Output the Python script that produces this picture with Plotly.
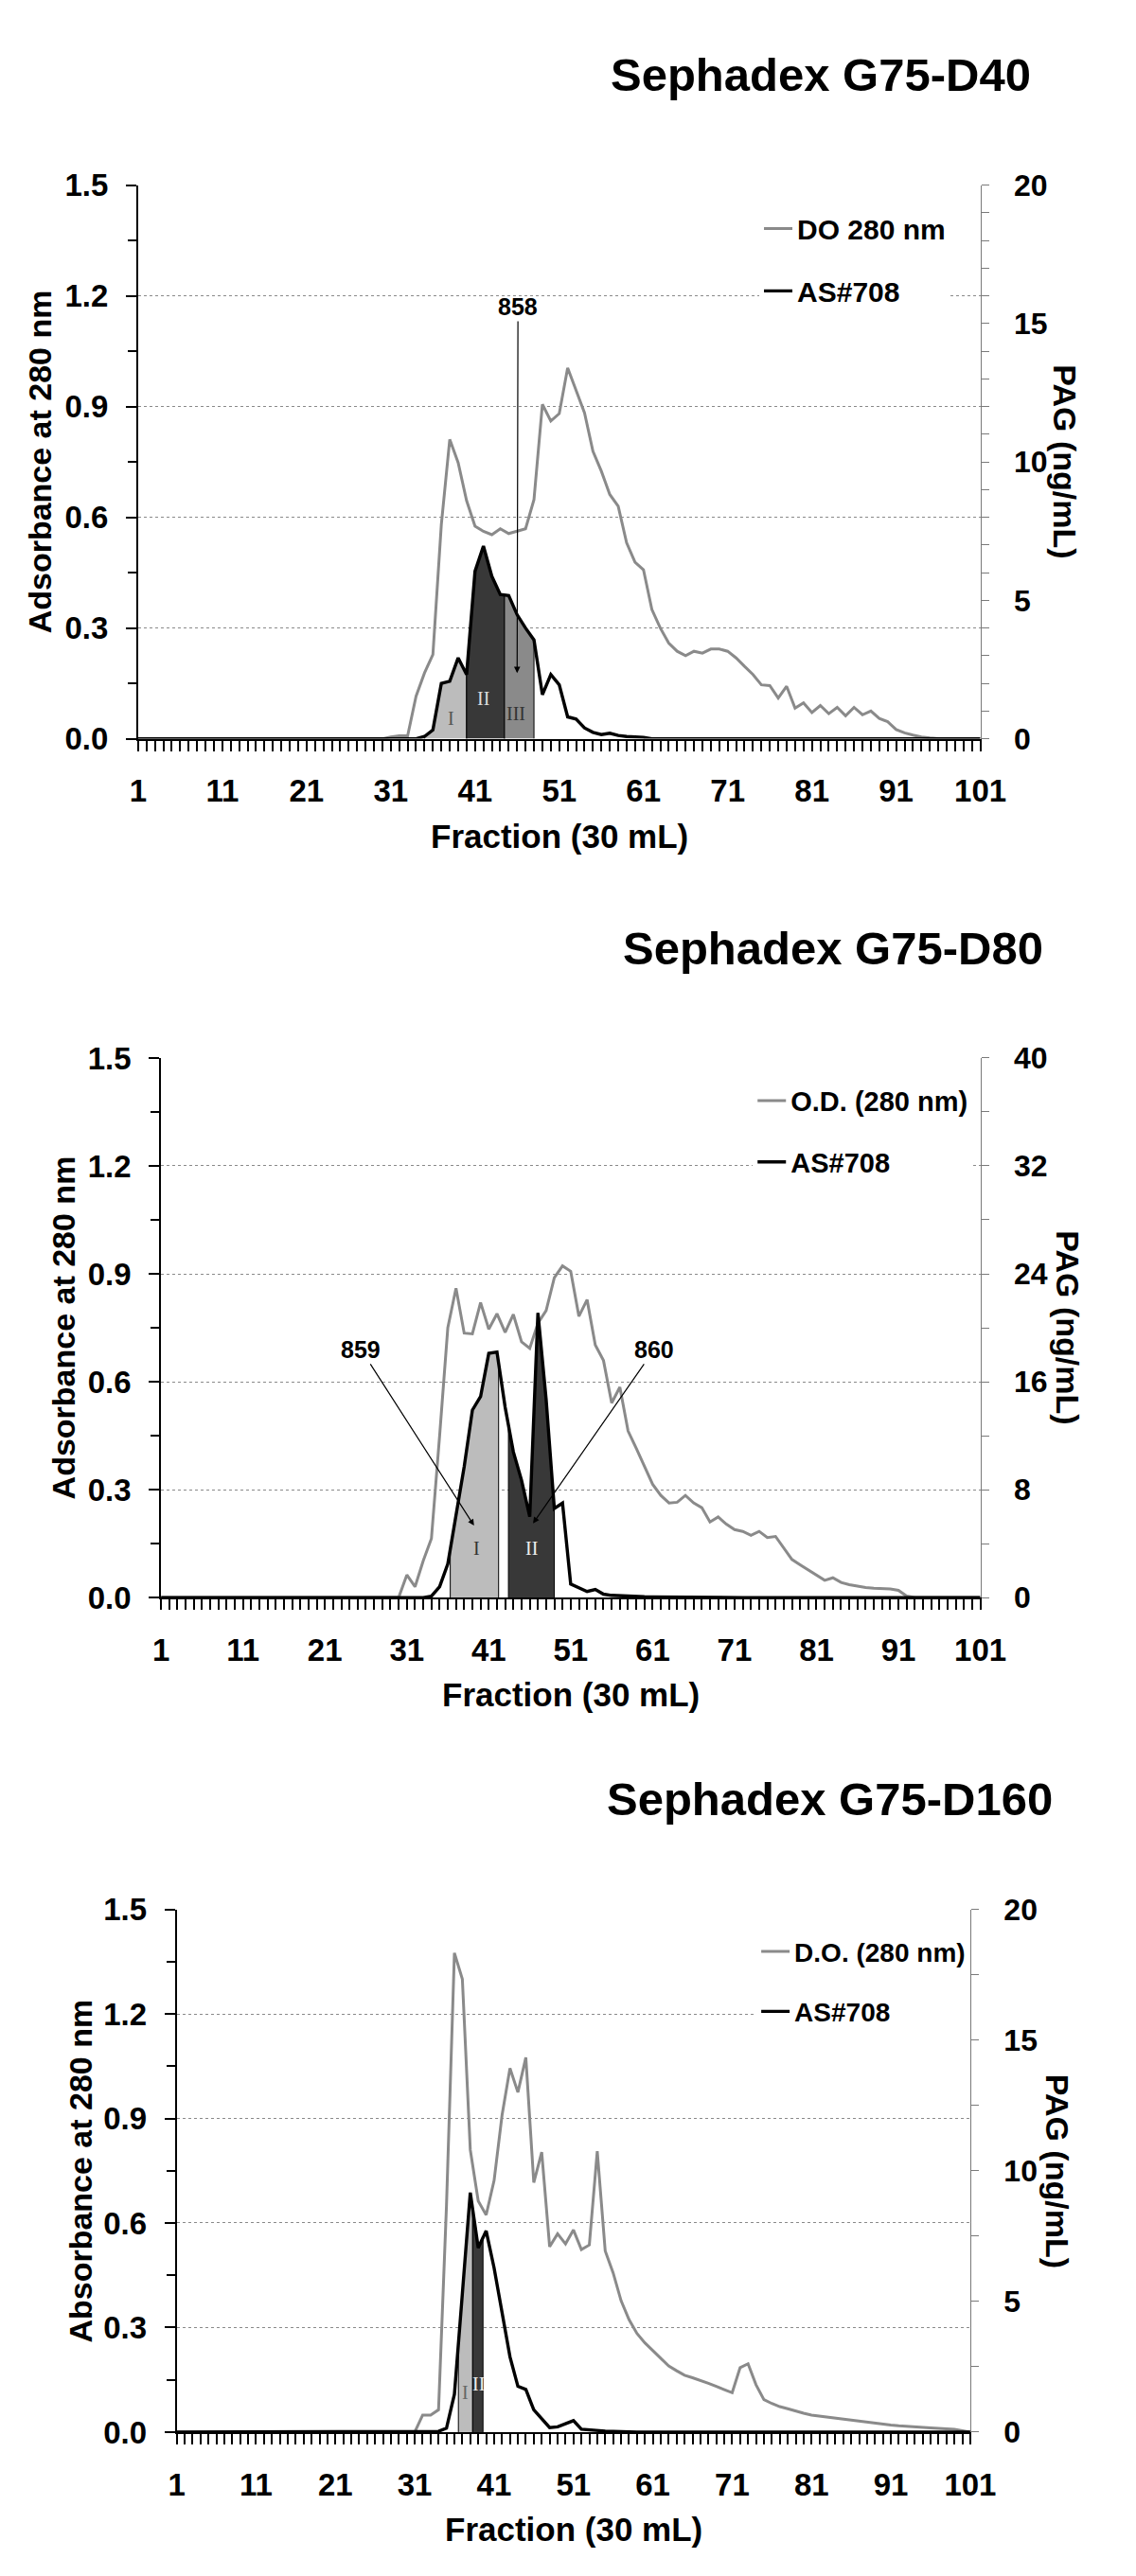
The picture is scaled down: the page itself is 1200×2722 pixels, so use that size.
import numpy as np
import plotly.graph_objects as go

# ---------------- DATA ----------------
FRACTIONS = list(range(1, 102))
X_TICK_LABELS = [1, 11, 21, 31, 41, 51, 61, 71, 81, 91, 101]

# Sephadex G75-D40
OD_D40 = [0, 0, 0, 0, 0, 0, 0, 0, 0, 0,
          0, 0, 0, 0, 0, 0, 0, 0, 0, 0,
          0, 0, 0, 0, 0, 0, 0, 0, 0, 0,
          0.005, 0.008, 0.008, 0.115, 0.178, 0.228, 0.58, 0.811, 0.748, 0.645,
          0.576, 0.562, 0.553, 0.569, 0.556, 0.562, 0.569, 0.648, 0.906, 0.861,
          0.881, 1.005, 0.946, 0.883, 0.779, 0.725, 0.662, 0.630, 0.531, 0.478,
          0.458, 0.350, 0.300, 0.259, 0.237, 0.225, 0.237, 0.232, 0.243, 0.243,
          0.237, 0.219, 0.196, 0.174, 0.146, 0.144, 0.110, 0.142, 0.083, 0.097,
          0.071, 0.090, 0.068, 0.085, 0.062, 0.085, 0.065, 0.075, 0.055, 0.046,
          0.025, 0.016, 0.010, 0.005, 0.002, 0, 0, 0, 0, 0,
          0]
PAG_D40 = [0, 0, 0, 0, 0, 0, 0, 0, 0, 0,
           0, 0, 0, 0, 0, 0, 0, 0, 0, 0,
           0, 0, 0, 0, 0, 0, 0, 0, 0, 0,
           0, 0, 0, 0, 0.08, 0.32, 2.0, 2.08, 2.92, 2.32,
           6.05, 6.96, 5.87, 5.21, 5.17, 4.48, 4.0, 3.57, 1.59, 2.32,
           1.95, 0.79, 0.71, 0.39, 0.23, 0.15, 0.20, 0.12, 0.08, 0.07,
           0.05, 0, 0, 0, 0, 0, 0, 0, 0, 0,
           0, 0, 0, 0, 0, 0, 0, 0, 0, 0,
           0, 0, 0, 0, 0, 0, 0, 0, 0, 0,
           0, 0, 0, 0, 0, 0, 0, 0, 0, 0,
           0]
REGIONS_D40 = [("I", 35, 40), ("II", 40, 44.5), ("III", 44.5, 48)]

# Sephadex G75-D80
OD_D80 = [0, 0, 0, 0, 0, 0, 0, 0, 0, 0,
          0, 0, 0, 0, 0, 0, 0, 0, 0, 0,
          0, 0, 0, 0, 0, 0, 0, 0, 0, 0,
          0.063, 0.030, 0.102, 0.164, 0.45, 0.75, 0.86, 0.735, 0.733, 0.82,
          0.746, 0.789, 0.737, 0.787, 0.711, 0.693, 0.763, 0.798, 0.889, 0.922,
          0.907, 0.782, 0.828, 0.702, 0.659, 0.541, 0.585, 0.463, 0.415, 0.363,
          0.315, 0.284, 0.263, 0.265, 0.284, 0.263, 0.250, 0.210, 0.224, 0.204,
          0.189, 0.184, 0.173, 0.184, 0.167, 0.170, 0.137, 0.106, 0.091, 0.077,
          0.063, 0.048, 0.055, 0.042, 0.036, 0.031, 0.028, 0.026, 0.025, 0.024,
          0.020, 0.004, 0, 0, 0, 0, 0, 0, 0, 0,
          0]
PAG_D80 = [0, 0, 0, 0, 0, 0, 0, 0, 0, 0,
           0, 0, 0, 0, 0, 0, 0, 0, 0, 0,
           0, 0, 0, 0, 0, 0, 0, 0, 0, 0,
           0, 0, 0, 0.1, 0.8, 2.5, 6.0, 9.7, 13.9, 14.9,
           18.1, 18.2, 14.1, 10.8, 8.7, 6.0, 21.1, 14.7, 6.6, 7.0,
           1.0, 0.75, 0.45, 0.6, 0.25, 0.16, 0.12, 0.10, 0.08, 0.06,
           0.05, 0.04, 0.03, 0.03, 0.02, 0.02, 0.01, 0.01, 0.01, 0.01,
           0, 0, 0, 0, 0, 0, 0, 0, 0, 0,
           0, 0, 0, 0, 0, 0, 0, 0, 0, 0,
           0, 0, 0, 0, 0, 0, 0, 0, 0, 0,
           0]
REGIONS_D80 = [("I", 36.3, 42.2), ("II", 43.4, 49)]

# Sephadex G75-D160
OD_D160 = [0, 0, 0, 0, 0, 0, 0, 0, 0, 0,
           0, 0, 0, 0, 0, 0, 0, 0, 0, 0,
           0, 0, 0, 0, 0, 0, 0, 0, 0, 0,
           0, 0.049, 0.049, 0.064, 0.65, 1.375, 1.30, 0.81, 0.663, 0.623,
           0.722, 0.909, 1.044, 0.975, 1.075, 0.716, 0.803, 0.532, 0.569, 0.540,
           0.580, 0.524, 0.537, 0.806, 0.520, 0.457, 0.377, 0.323, 0.283, 0.256,
           0.234, 0.212, 0.190, 0.176, 0.163, 0.156, 0.149, 0.140, 0.131, 0.122,
           0.113, 0.185, 0.196, 0.136, 0.093, 0.082, 0.073, 0.067, 0.060, 0.054,
           0.049, 0.046, 0.044, 0.041, 0.038, 0.034, 0.031, 0.028, 0.025, 0.023,
           0.020, 0.018, 0.016, 0.014, 0.013, 0.012, 0.011, 0.010, 0.008, 0.004,
           0]
PAG_D160 = [0, 0, 0, 0, 0, 0, 0, 0, 0, 0,
            0, 0, 0, 0, 0, 0, 0, 0, 0, 0,
            0, 0, 0, 0, 0, 0, 0, 0, 0, 0,
            0, 0, 0, 0.03, 0.15, 1.45, 5.3, 9.16, 7.05, 7.7,
            6.28, 4.6, 2.88, 1.75, 1.63, 0.85, 0.53, 0.17, 0.2, 0.32,
            0.44, 0.11, 0.08, 0.05, 0.04, 0.03, 0.01, 0, 0, 0,
            0, 0, 0, 0, 0, 0, 0, 0, 0, 0,
            0, 0, 0, 0, 0, 0, 0, 0, 0, 0,
            0, 0, 0, 0, 0, 0, 0, 0, 0, 0,
            0, 0, 0, 0, 0, 0, 0, 0, 0, 0,
            0]
REGIONS_D160 = [("I", 36.5, 38.3), ("II", 38.3, 39.6)]

# ---------------- STYLE / LAYOUT ----------------
W, H = 1200, 2722
FONT = "Liberation Sans, Arial, Helvetica, sans-serif"
SERIF = "Liberation Serif, Times New Roman, serif"
GRAY = "#8a8a8a"
REGION_FILL = {"I": "#bcbcbc", "II": "#383838", "III": "#8a8a8a"}


def px(x):
    return x / W


def py(y):
    return 1 - y / H


def bold(size, color="black"):
    return dict(family=FONT, size=size, color=color, weight="bold")


def region_polygon(frac, pag, a, b):
    fr = np.asarray(frac, float)
    pg = np.asarray(pag, float)
    inner = fr[(fr > a) & (fr < b)]
    xs = np.concatenate([[a], inner, [b]])
    ys = np.interp(xs, fr, pg)
    return (np.concatenate([[a], xs, [b]]).tolist(),
            np.concatenate([[0.0], ys, [0.0]]).tolist())


charts = [
    dict(title="Sephadex G75-D40", od=OD_D40, pag=PAG_D40, regions=REGIONS_D40,
         od_name="DO 280 nm", ytitle="Adsorbance at 280 nm",
         pag_max=20, pag_dtick=5, pag_minor=1,
         box=(133, 1051, 172, 765), title_x=1108, ytitle_x=26, y2title_x=1143,
         legend_x=810, legend_fs=30,
         labels=[("I", 38.2, 0.055, "#555555"), ("II", 42, 0.11, "#dddddd"),
                 ("III", 45.9, 0.068, "#333333")],
         arrows=[("858", 46.1, 1.171, 46.0, 0.178)]),
    dict(title="Sephadex G75-D80", od=OD_D80, pag=PAG_D80, regions=REGIONS_D80,
         od_name="O.D. (280 nm)", ytitle="Adsorbance at 280 nm",
         pag_max=40, pag_dtick=8, pag_minor=4,
         box=(158, 1051, 1107, 1685), title_x=1122, ytitle_x=52, y2title_x=1146,
         legend_x=803, legend_fs=29,
         labels=[("I", 39.5, 0.137, "#333333"), ("II", 46.2, 0.137, "#eeeeee")],
         arrows=[("859", 25.4, 0.69, 39.2, 0.2), ("860", 61.2, 0.69, 46.4, 0.206)]),
    dict(title="Sephadex G75-D160", od=OD_D160, pag=PAG_D160, regions=REGIONS_D160,
         od_name="D.O. (280 nm)", ytitle="Absorbance at 280 nm",
         pag_max=20, pag_dtick=5, pag_minor=2.5,
         box=(175, 1040, 2019, 2579), title_x=1132, ytitle_x=70, y2title_x=1135,
         legend_x=807, legend_fs=28,
         labels=[("I", 37.35, 0.115, "#666666"), ("II", 39.06, 0.138, "#eeeeee")],
         arrows=[]),
]

fig = go.Figure()
annotations = []
layout = dict(
    width=W, height=H, margin=dict(l=0, r=0, t=0, b=0),
    paper_bgcolor="white", plot_bgcolor="white", showlegend=True,
)

for i, c in enumerate(charts):
    n = i + 1
    xa = "x" if n == 1 else f"x{n}"
    ya1 = "y" if n == 1 else f"y{2 * n - 1}"
    ya2 = f"y{2 * n}"
    leg = "legend" if n == 1 else f"legend{n}"
    L, R, T, B = c["box"]
    xdom = [px(L), px(R)]
    ydom = [py(B), py(T)]

    xkey = "xaxis" if n == 1 else f"xaxis{n}"
    y1key = "yaxis" if n == 1 else f"yaxis{2 * n - 1}"
    y2key = f"yaxis{2 * n}"

    layout[xkey] = dict(
        domain=xdom, anchor=ya1, range=[1, 101], showgrid=False, zeroline=False,
        showline=True, linecolor="black", linewidth=2,
        tickmode="array", tickvals=X_TICK_LABELS, ticktext=[str(v) for v in X_TICK_LABELS],
        ticks="outside", ticklen=11, tickwidth=1.5, tickcolor="black",
        minor=dict(tickmode="linear", tick0=1, dtick=1, ticks="outside", ticklen=11,
                   tickwidth=1.5, tickcolor="black", showgrid=False),
        tickfont=bold(33), ticklabelstandoff=14,
    )
    layout[y1key] = dict(
        domain=ydom, anchor=xa, range=[0, 1.5], tick0=0, dtick=0.3, tickformat=".1f",
        showgrid=True, gridcolor="#8a8a8a", griddash="dot", gridwidth=1,
        zeroline=False, showline=True, linecolor="black", linewidth=2,
        ticks="outside", ticklen=11, tickwidth=1.5, tickcolor="black",
        minor=dict(dtick=0.15, ticks="outside", ticklen=9, tickwidth=1.5,
                   tickcolor="black", showgrid=False),
        tickfont=bold(33), ticklabelstandoff=12,
    )
    layout[y2key] = dict(
        overlaying=ya1, anchor=xa, side="right", range=[0, c["pag_max"]],
        tick0=0, dtick=c["pag_dtick"], showgrid=False, zeroline=False,
        showline=True, linecolor="#7a7a7a", linewidth=1,
        ticks="outside", ticklen=8, tickwidth=1, tickcolor="#7a7a7a",
        minor=dict(dtick=c["pag_minor"], ticks="outside", ticklen=8, tickwidth=1,
                   tickcolor="#7a7a7a", showgrid=False),
        tickfont=bold(32), ticklabelstandoff=20,
    )
    layout[leg] = dict(
        x=px(c["legend_x"]), y=py(T + 20), xanchor="left", yanchor="top",
        bgcolor="white", borderwidth=0, font=bold(c["legend_fs"]),
        traceorder="grouped", tracegroupgap=24, itemwidth=30,
    )

    # region fills (PAG, right axis)
    for name, a, b in c["regions"]:
        xs, ys = region_polygon(FRACTIONS, c["pag"], a, b)
        fig.add_trace(go.Scatter(
            x=xs, y=ys, xaxis=xa, yaxis=ya2, mode="lines", fill="toself",
            fillcolor=REGION_FILL[name], line=dict(color="black", width=1),
            showlegend=False, hoverinfo="skip"))

    # OD line (left axis)
    fig.add_trace(go.Scatter(
        x=FRACTIONS, y=c["od"], xaxis=xa, yaxis=ya1, mode="lines",
        line=dict(color=GRAY, width=3), name=c["od_name"], legend=leg,
        legendgroup=f"od{n}"))
    # PAG line (right axis)
    fig.add_trace(go.Scatter(
        x=FRACTIONS, y=c["pag"], xaxis=xa, yaxis=ya2, mode="lines",
        line=dict(color="black", width=3.4), name="AS#708", legend=leg,
        legendgroup=f"pag{n}"))

    # titles
    annotations.append(dict(
        x=px(c["title_x"]), y=py(T - 118), xref="paper", yref="paper",
        xanchor="right", yanchor="middle", text=c["title"], showarrow=False,
        font=bold(49)))
    annotations.append(dict(
        x=px(c["ytitle_x"]), y=py((T + B) / 2), xref="paper", yref="paper",
        xanchor="center", yanchor="middle", text=c["ytitle"], textangle=-90,
        showarrow=False, font=bold(34)))
    annotations.append(dict(
        x=px(c["y2title_x"]), y=py((T + B) / 2), xref="paper", yref="paper",
        xanchor="center", yanchor="middle", text="PAG (ng/mL)", textangle=90,
        showarrow=False, font=bold(34)))
    annotations.append(dict(
        x=px((L + R) / 2), y=py(B + 104), xref="paper", yref="paper",
        xanchor="center", yanchor="middle", text="Fraction (30 mL)",
        showarrow=False, font=bold(35)))

    # region labels
    for txt, fx, fy, col in c["labels"]:
        annotations.append(dict(
            x=fx, y=fy, xref=xa, yref=ya1, text=txt, showarrow=False,
            font=dict(family=SERIF, size=20, color=col)))

    # arrows with numbers
    for txt, tx, ty, hx, hy in c["arrows"]:
        annotations.append(dict(
            x=hx, y=hy, ax=tx, ay=ty, xref=xa, yref=ya1, axref=xa, ayref=ya1,
            text=txt, showarrow=True, arrowhead=2, arrowsize=1.1, arrowwidth=1.2,
            arrowcolor="black", font=bold(25)))

layout["annotations"] = annotations
fig.update_layout(**layout)
fig.write_html("out.html")
